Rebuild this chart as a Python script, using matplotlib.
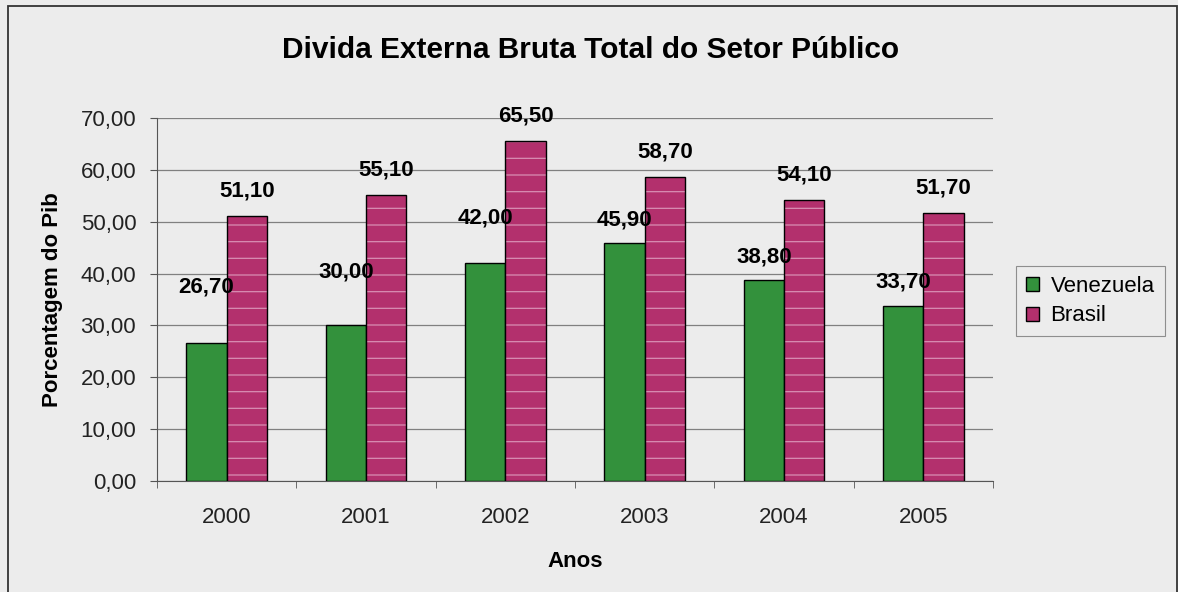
import matplotlib
matplotlib.use("Agg")
import matplotlib.pyplot as plt
from matplotlib.patches import Rectangle
import numpy as np

plt.rcParams['font.family'] = ['Liberation Sans', 'DejaVu Sans']
plt.rcParams['hatch.linewidth'] = 0.9

anos = ['2000', '2001', '2002', '2003', '2004', '2005']
venezuela = [26.70, 30.00, 42.00, 45.90, 38.80, 33.70]
brasil = [51.10, 55.10, 65.50, 58.70, 54.10, 51.70]
# how far (data units) above each Venezuela bar its label sits
venezuela_label_gap = [10.7, 10.3, 8.7, 4.4, 4.4, 4.7]

bg = '#ececec'
green = '#33913c'
magenta = '#b3306d'

fig = plt.figure(figsize=(11.78, 5.92), dpi=100, facecolor=bg)
ax = fig.add_axes([0.1333, 0.1875, 0.7097, 0.6132])
ax.set_facecolor(bg)

# border round the chart (bottom edge runs off the picture)
fig.patches.append(Rectangle((8 / 1178, -0.01), 1168.5 / 1178, 0.9995, transform=fig.transFigure,
                             fill=False, edgecolor='#333333', linewidth=1.3))

x = np.arange(len(anos))
w = 0.29
b1 = ax.bar(x - w / 2, venezuela, w, color=green, edgecolor='black', linewidth=1.0,
            label='Venezuela', zorder=3)
# striped Brasil bars: hatch first, outline on top
ax.bar(x + w / 2, brasil, w, color=magenta, edgecolor='#d88db2', hatch='-',
       linewidth=0, zorder=3)
b2 = ax.bar(x + w / 2, brasil, w, fill=False, edgecolor='black', linewidth=1.0, zorder=4)


def fmt(v):
    return f"{v:.2f}".replace('.', ',')


for xi, v, gap in zip(x, venezuela, venezuela_label_gap):
    ax.text(xi - w / 2, v + gap, fmt(v), ha='center', va='center',
            fontsize=16, fontweight='bold', zorder=5)
for xi, v in zip(x, brasil):
    ax.annotate(fmt(v), (xi + w / 2, v), xytext=(0, 18), textcoords='offset points',
                ha='center', va='center', fontsize=16, fontweight='bold', zorder=5)

ax.set_xlim(-0.5, len(anos) - 0.5)
ax.set_ylim(0, 70)
yt = np.arange(0, 71, 10)
ax.set_yticks(yt)
ax.set_yticklabels([fmt(t) for t in yt], fontsize=16, color='#222222')
ax.set_xticks(x)
ax.set_xticklabels(anos, fontsize=16, color='#222222')
ax.set_xticks(np.arange(-0.5, len(anos), 1), minor=True)
ax.tick_params(axis='x', which='major', length=0, pad=19)
ax.tick_params(axis='x', which='minor', length=5, color='#555555')
ax.tick_params(axis='y', length=5, color='#555555', pad=10)
ax.grid(axis='y', color='#808080', linewidth=0.9, zorder=0)

for s in ['top', 'right']:
    ax.spines[s].set_visible(False)
ax.spines['left'].set_color('#555555')
ax.spines['bottom'].set_color('#555555')

ax.set_ylabel('Porcentagem do Pib', fontsize=16, fontweight='bold')
ax.yaxis.set_label_coords(-0.113, 0.5)
ax.set_xlabel('Anos', fontsize=16, fontweight='bold', labelpad=16)
fig.suptitle('Divida Externa Bruta Total do Setor Público', x=0.501, y=0.94,
             fontsize=21.5, fontweight='bold')

leg = fig.legend([b1, b2[0]], ['Venezuela', 'Brasil'], loc='center left',
                 bbox_to_anchor=(0.8625, 0.4916), fontsize=16, frameon=True,
                 fancybox=False, edgecolor='#777777', facecolor=bg,
                 handlelength=0.6, handleheight=0.6, handletextpad=0.5,
                 borderpad=0.45, labelspacing=0.4, borderaxespad=0)
leg.get_frame().set_linewidth(0.8)
leg.legend_handles[1].set_facecolor(magenta)
leg.legend_handles[1].set_fill(True)

fig.savefig('out.png', dpi=100, facecolor=bg)
